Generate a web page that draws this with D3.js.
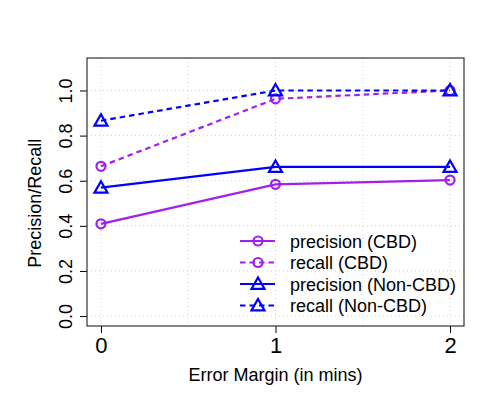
<!DOCTYPE html>
<html>
<head>
<meta charset="utf-8">
<script src="https://cdn.jsdelivr.net/npm/d3@7"></script>
<style>
  body { margin: 0; background: #fff; }
  text { font-family: "Liberation Sans", Arial, sans-serif; }
</style>
</head>
<body>
<div id="chart"></div>
<script>
// data
const errorMargins = [0, 1, 2];
const precisionCBD = [0.409, 0.584, 0.603];
const recallCBD = [0.664, 0.963, 1.0];
const precisionNonCBD = [0.569, 0.661, 0.661];
const recallNonCBD = [0.866, 1.0, 1.0];
const yTicks = [0, 0.2, 0.4, 0.6, 0.8, 1.0];
const xGrid = [0, 0.5, 1, 1.5, 2];

const series = [
    { name: "precision (CBD)", values: precisionCBD, color: "#a020f0", dashed: false, shape: "circle" },
    { name: "recall (CBD)", values: recallCBD, color: "#a020f0", dashed: true, shape: "circle" },
    { name: "precision (Non-CBD)", values: precisionNonCBD, color: "#0000ff", dashed: false, shape: "triangle" },
    { name: "recall (Non-CBD)", values: recallNonCBD, color: "#0000ff", dashed: true, shape: "triangle" }
];

const width = 480, height = 400;
const plot = { left: 87, right: 464, top: 58, bottom: 326 };

const svg = d3.select("#chart")
    .append("svg")
    .attr("width", width)
    .attr("height", height);

// scales, padded 4% like R does
const x = d3.scaleLinear().domain([-0.08, 2.08]).range([plot.left, plot.right]);
const y = d3.scaleLinear().domain([-0.044, 1.144]).range([plot.bottom, plot.top]);

// grid
const grid = svg.append("g")
    .attr("stroke", "#d3d3d3")
    .attr("stroke-width", 1)
    .attr("stroke-dasharray", "1,3");
grid.selectAll(".hgrid")
    .data(yTicks)
    .join("line")
    .attr("class", "hgrid")
    .attr("x1", plot.left).attr("x2", plot.right)
    .attr("y1", d => y(d)).attr("y2", d => y(d));
grid.selectAll(".vgrid")
    .data(xGrid)
    .join("line")
    .attr("class", "vgrid")
    .attr("x1", d => x(d)).attr("x2", d => x(d))
    .attr("y1", plot.top).attr("y2", plot.bottom);

// axes
const xAxis = d3.axisBottom(x).tickValues(errorMargins).tickSize(7).tickPadding(4).tickFormat(d3.format("d"));
svg.append("g")
    .attr("class", "myXAxis")
    .attr("transform", `translate(0,${plot.bottom})`)
    .call(xAxis)
    .call(g => g.select(".domain").remove())
    .call(g => g.selectAll("text").attr("font-size", 22).attr("fill", "#000").attr("font-family", "Liberation Sans, Arial, sans-serif"));

const yAxis = d3.axisLeft(y).tickValues(yTicks).tickSize(7).tickFormat(d3.format(".1f"));
svg.append("g")
    .attr("class", "myYAxis")
    .attr("transform", `translate(${plot.left},0)`)
    .call(yAxis)
    .call(g => g.select(".domain").remove())
    .call(g => g.selectAll("text")
        .attr("font-size", 18)
        .attr("fill", "#000")
        .attr("font-family", "Liberation Sans, Arial, sans-serif")
        .attr("x", null).attr("dy", null)
        .attr("text-anchor", "middle")
        .attr("transform", "translate(-15,0) rotate(-90)"));

// box
svg.append("rect")
    .attr("x", plot.left).attr("y", plot.top)
    .attr("width", plot.right - plot.left)
    .attr("height", plot.bottom - plot.top)
    .attr("fill", "none")
    .attr("stroke", "#333")
    .attr("stroke-width", 1.2);

// axis titles
svg.append("text")
    .attr("text-anchor", "middle")
    .attr("x", (x(0) + x(2)) / 2)
    .attr("y", 381)
    .attr("font-size", 18)
    .text("Error Margin (in mins)");
svg.append("text")
    .attr("text-anchor", "middle")
    .attr("transform", `translate(41,${(y(0) + y(1)) / 2}) rotate(-90)`)
    .attr("font-size", 18)
    .text("Precision/Recall");

// markers
function drawMarker(g, shape, color, cx, cy) {
    if (shape === "circle") {
        g.append("circle")
            .attr("cx", cx).attr("cy", cy).attr("r", 4.5)
            .attr("fill", "none").attr("stroke", color).attr("stroke-width", 2.2);
    } else {
        const s = 6.5;
        g.append("path")
            .attr("d", `M${cx},${cy - s}L${cx + s},${cy + s * 0.75}L${cx - s},${cy + s * 0.75}Z`)
            .attr("fill", "none").attr("stroke", color).attr("stroke-width", 2.2)
            .attr("stroke-linejoin", "miter");
    }
}

const line = d3.line()
    .x((d, i) => x(errorMargins[i]))
    .y(d => y(d));

const lines = svg.append("g");
series.forEach(s => {
    lines.append("path")
        .datum(s.values)
        .attr("d", line)
        .attr("fill", "none")
        .attr("stroke", s.color)
        .attr("stroke-width", 2.2)
        .attr("stroke-dasharray", s.dashed ? "5.5,4" : null);
    s.values.forEach((v, i) => drawMarker(lines, s.shape, s.color, x(errorMargins[i]), y(v)));
});

// legend, no frame
const legend = svg.append("g");
series.forEach((s, i) => {
    const ly = 241 + i * 21.5;
    legend.append("line")
        .attr("x1", 240).attr("x2", 275)
        .attr("y1", ly).attr("y2", ly)
        .attr("stroke", s.color)
        .attr("stroke-width", 2.2)
        .attr("stroke-dasharray", s.dashed ? "5.5,4" : null);
    drawMarker(legend, s.shape, s.color, 258, ly);
    legend.append("text")
        .attr("x", 290)
        .attr("y", ly + 6.5)
        .attr("font-size", 18)
        .text(s.name);
});
</script>
</body>
</html>
